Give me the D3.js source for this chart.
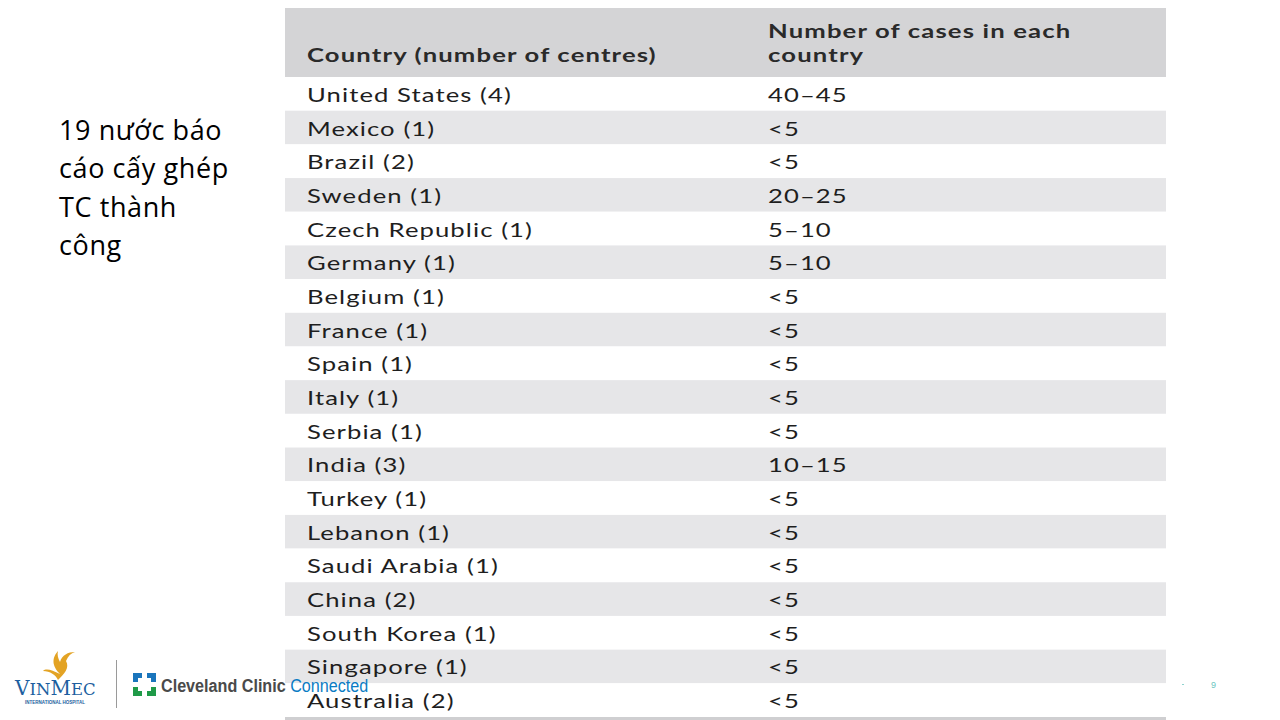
<!DOCTYPE html>
<html>
<head>
<meta charset="utf-8">
<script src="https://cdn.jsdelivr.net/npm/d3@7/dist/d3.min.js"></script>
<style>
  html, body { margin: 0; padding: 0; background: #fff; }
  svg { display: block; }
</style>
</head>
<body>
<div id="slide"></div>
<script>
const headers = ['Country (number of centres)', ['Number of cases in each', 'country']];
const countries = [
  'United States (4)', 'Mexico (1)', 'Brazil (2)', 'Sweden (1)', 'Czech Republic (1)',
  'Germany (1)', 'Belgium (1)', 'France (1)', 'Spain (1)', 'Italy (1)', 'Serbia (1)',
  'India (3)', 'Turkey (1)', 'Lebanon (1)', 'Saudi Arabia (1)', 'China (2)',
  'South Korea (1)', 'Singapore (1)', 'Australia (2)'
];
const cases = [
  '40–45', '<5', '<5', '20–25', '5–10', '5–10', '<5', '<5', '<5', '<5', '<5',
  '10–15', '<5', '<5', '<5', '<5', '<5', '<5', '<5'
];
const sideLines = ['19 nước báo', 'cáo cấy ghép', 'TC thành', 'công'];
const pageNumber = '9';

const WIDTH = 1280;
const HEIGHT = 720;
const tableLeft = 285;
const tableRight = 1166;
const headerTop = 8;
const headerBottom = 77;
const tableBottom = 717;
const col1X = 307;
const col2X = 768;
const stretch = 1.35;
const bodyFont = 'Lato, "Open Sans", sans-serif';

const svg = d3.create('svg').attr('width', WIDTH).attr('height', HEIGHT);

const rowScale = d3
  .scaleBand()
  .domain(d3.range(countries.length))
  .range([headerBottom, tableBottom])
  .padding(0);

// header
svg
  .append('rect')
  .attr('x', tableLeft)
  .attr('y', headerTop)
  .attr('width', tableRight - tableLeft)
  .attr('height', headerBottom - headerTop)
  .style('fill', '#d4d4d6');

const headerStyle = (g) =>
  g
    .style('font-family', bodyFont)
    .style('font-weight', 700)
    .style('font-size', '19px')
    .style('letter-spacing', '0.85px')
    .style('fill', '#2a2a2a');

svg
  .append('g')
  .attr('transform', `translate(${col1X}, 62) scale(${stretch}, 1)`)
  .call(headerStyle)
  .append('text')
  .text(headers[0]);

svg
  .append('g')
  .attr('transform', `translate(${col2X}, 38) scale(${stretch}, 1)`)
  .call(headerStyle)
  .selectAll('text')
  .data(headers[1])
  .join('text')
  .attr('y', (_, i) => i * 24)
  .text((d) => d);

// body rows
const rows = svg
  .append('g')
  .selectAll('g')
  .data(countries)
  .join('g')
  .attr('transform', (_, i) => `translate(0, ${rowScale(i)})`);

rows
  .append('rect')
  .attr('x', tableLeft)
  .attr('width', tableRight - tableLeft)
  .attr('height', rowScale.bandwidth())
  .style('fill', (_, i) => (i % 2 === 1 ? '#e6e6e8' : '#ffffff'));

const cellStyle = (g) =>
  g
    .style('font-family', bodyFont)
    .style('font-size', '19px')
    .style('letter-spacing', '0.8px')
    .style('fill', '#1e1e1e');

rows
  .append('g')
  .attr('transform', `translate(${col1X}, ${rowScale.bandwidth() / 2 + 8}) scale(${stretch}, 1)`)
  .call(cellStyle)
  .append('text')
  .text((d) => d);

rows
  .append('g')
  .attr('transform', `translate(${col2X}, ${rowScale.bandwidth() / 2 + 8}) scale(${stretch}, 1)`)
  .call(cellStyle)
  .append('text')
  .text((_, i) => cases[i]);

svg
  .append('rect')
  .attr('x', tableLeft)
  .attr('y', tableBottom)
  .attr('width', tableRight - tableLeft)
  .attr('height', 3)
  .style('fill', '#cfcfd1');

// left caption
svg
  .append('g')
  .style('font-family', '"Open Sans", "Noto Sans", sans-serif')
  .style('font-size', '27px')
  .style('letter-spacing', '0.6px')
  .style('fill', '#000')
  .selectAll('text')
  .data(sideLines)
  .join('text')
  .attr('x', 59)
  .attr('y', (_, i) => 140 + i * 38.3)
  .text((d) => d);

// footer logos
svg
  .append('path')
  .attr('d', 'M58 651 C 50 660, 54 668, 60 674 C 52 670, 46 668, 43 671 C 50 671, 56 675, 58 680 C 64 674, 70 668, 66 661 C 68 656, 71 653, 75 652 C 68 652, 62 655, 60 662 C 58 658, 57 655, 58 651 Z')
  .style('fill', '#e3a324');

const vinmecParts = [
  { t: 'V', s: 20 },
  { t: 'IN', s: 16.5 },
  { t: 'M', s: 20 },
  { t: 'EC', s: 16.5 },
];
svg
  .append('text')
  .attr('x', 15)
  .attr('y', 695)
  .style('font-family', '"DejaVu Serif", "Liberation Serif", serif')
  .style('fill', '#1d5fa0')
  .selectAll('tspan')
  .data(vinmecParts)
  .join('tspan')
  .style('font-size', (d) => `${d.s}px`)
  .text((d) => d.t);

svg
  .append('text')
  .attr('x', 55)
  .attr('y', 704)
  .attr('text-anchor', 'middle')
  .style('font-family', '"Liberation Sans", sans-serif')
  .style('font-size', '4.5px')
  .style('font-weight', 700)
  .style('fill', '#1d5fa0')
  .text('INTERNATIONAL HOSPITAL');

svg
  .append('line')
  .attr('x1', 116.5)
  .attr('x2', 116.5)
  .attr('y1', 660)
  .attr('y2', 708)
  .style('stroke', '#9a9a9a')
  .style('stroke-width', 1);

const crossParts = [
  { c: '#1a75bc', d: 'M0 0 H9 V5 H5 V9 H0 Z' },
  { c: '#1a75bc', d: 'M14 0 H23 V9 H18 V5 H14 Z' },
  { c: '#1f9a48', d: 'M0 14 H5 V18 H9 V23 H0 Z' },
  { c: '#1f9a48', d: 'M18 14 H23 V23 H14 V18 H18 Z' },
];
svg
  .append('g')
  .attr('transform', 'translate(133, 673)')
  .selectAll('path')
  .data(crossParts)
  .join('path')
  .attr('d', (d) => d.d)
  .style('fill', (d) => d.c);

const cc = svg
  .append('g')
  .attr('transform', 'translate(161, 692) scale(0.85, 1)')
  .append('text')
  .style('font-family', '"Liberation Sans", "Roboto", sans-serif')
  .style('font-size', '19px');
cc.append('tspan').style('font-weight', 700).style('fill', '#4a4a4a').text('Cleveland Clinic ');
cc.append('tspan').style('fill', '#0a7cc4').text('Connected');

svg
  .append('rect')
  .attr('x', 1182)
  .attr('y', 684)
  .attr('width', 2)
  .attr('height', 1)
  .style('fill', '#8fd3cf');
svg
  .append('text')
  .attr('x', 1211)
  .attr('y', 688)
  .style('font-family', '"Liberation Sans", sans-serif')
  .style('font-size', '9px')
  .style('fill', '#6cc6c0')
  .text(pageNumber);

document.getElementById('slide').appendChild(svg.node());
</script>
</body>
</html>
